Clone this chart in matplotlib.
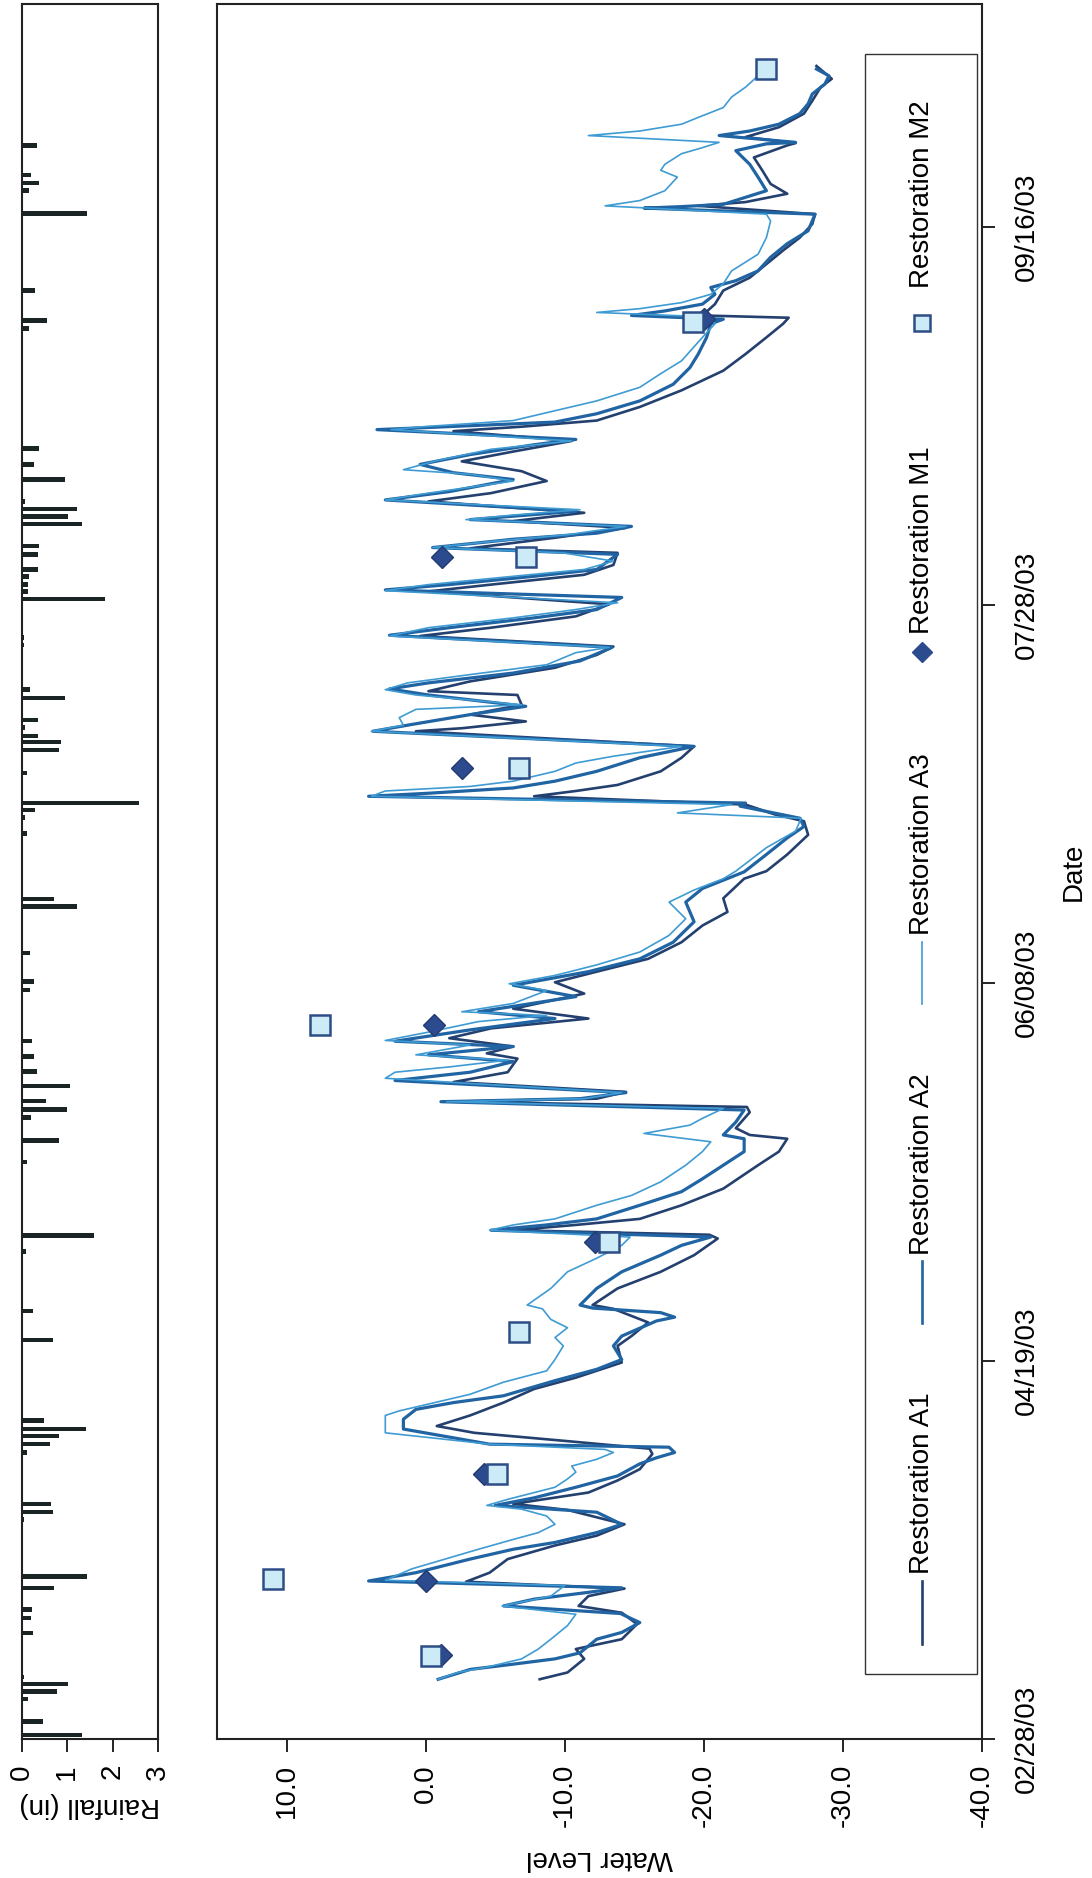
import numpy as np
import matplotlib
matplotlib.use('Agg')
import matplotlib.pyplot as plt
import matplotlib.dates as mdates
from matplotlib.ticker import FormatStrFormatter
from matplotlib.patches import Rectangle

plt.rcParams['font.family'] = ['Liberation Sans', 'DejaVu Sans']
plt.rcParams['axes.unicode_minus'] = False

# the chart is drawn turned a quarter turn: water level runs across, dates run up
# days are counted from 02/28/03
start = mdates.datestr2num('2003-02-28')
date_ticks = ['2003-02-28', '2003-04-19', '2003-06-08', '2003-07-28', '2003-09-16']
level_ticks = [10, 0, -10, -20, -30, -40]
rain_ticks = [0, 1, 2, 3]
names = ['Restoration A1', 'Restoration A2', 'Restoration A3', 'Restoration M1', 'Restoration M2']

rain_day = [0.5, 2.3, 3.3, 5.3, 6.3, 7.3, 8.2, 14.0, 16.0, 17.1, 20.0, 21.5, 21.9, 29.0, 30.0, 31.1,
            37.9, 39.0, 40.1, 41.0, 42.1, 52.8, 56.6, 64.5, 66.6, 76.3, 79.2, 80.3, 82.2, 83.3, 84.4,
            86.4, 88.3, 90.3, 92.3, 95.2, 99.1, 100.2, 104.0, 106.1, 107.2, 110.1, 111.1, 112.0,
            119.8, 121.9, 122.9, 123.8, 127.8, 130.8, 131.9, 132.7, 133.8, 134.8, 137.7, 138.8,
            140.7, 143.8, 144.7, 145.7, 150.8, 151.8, 152.7, 153.8, 154.7, 156.7, 157.8, 160.7,
            161.7, 162.7, 163.7, 164.8, 166.6, 168.6, 170.7, 186.6, 187.6, 191.6, 192.7, 195.7,
            200.7, 201.8, 204.8, 205.8, 206.9, 210.8]
rain_in = [1.32, 0.47, 0.02, 0.13, 0.77, 1.01, 0.05, 0.24, 0.21, 0.22, 0.72, 1.43, 0.02, 0.06, 0.68, 0.65,
           0.11, 0.62, 0.81, 1.41, 0.50, 0.68, 0.24, 0.09, 1.60, 0.11, 0.83, 0.02, 0.21, 0.99, 0.53,
           1.07, 0.33, 0.28, 0.22, 0.02, 0.18, 0.28, 0.18, 0.02, 0.02, 1.21, 0.70, 0.02,
           0.11, 0.07, 0.29, 2.59, 0.11, 0.82, 0.87, 0.35, 0.07, 0.35, 0.96, 0.18,
           0.02, 0.02, 0.06, 0.04, 1.84, 0.13, 0.13, 0.16, 0.35, 0.35, 0.38, 1.32,
           1.01, 1.21, 0.07, 0.02, 0.96, 0.28, 0.38, 0.17, 0.55, 0.29, 0.02, 0.02,
           0.02, 1.43, 0.15, 0.38, 0.21, 0.33]

a1_day = [7.9, 8.8, 10.6, 11.9, 13.2, 15.2, 16.7, 17.6, 18.9, 19.9, 20.8, 22.0, 23.8, 25.6, 26.9, 28.4,
          30.3, 31.1, 32.6, 34.2, 35.7, 37.7, 38.4, 39.4, 40.5, 41.4, 42.8, 44.5, 46.3, 47.8, 49.8,
          52.0, 53.3, 55.1, 56.9, 57.4, 59.6, 61.8, 64.0, 66.2, 66.7, 67.3, 68.0, 68.8, 70.6, 72.8,
          75.9, 77.7, 79.4, 79.9, 80.8, 82.9, 83.6, 84.3, 84.7, 85.6, 86.9, 88.2, 90.0, 90.7, 91.6,
          92.7, 94.0, 95.3, 96.6, 98.6, 100.1, 101.5, 103.2, 105.4, 107.6, 109.4, 111.2, 113.8,
          114.8, 117.0, 119.6, 121.4, 122.3, 123.6, 124.7, 125.4, 126.2, 128.0, 129.8, 131.3,
          133.3, 133.7, 134.6, 135.5, 136.8, 138.1, 138.6, 139.9, 141.7, 143.4, 144.5, 145.9,
          147.0, 148.5, 150.1, 151.8, 152.7, 154.0, 155.3, 156.9, 157.5, 158.9, 160.2, 161.1,
          162.2, 163.7, 164.8, 166.4, 167.7, 169.0, 170.3, 171.7, 173.0, 173.6, 174.4, 176.2,
          178.4, 181.0, 183.2, 185.4, 187.2, 188.0, 188.3, 189.8, 191.6, 193.3, 195.1, 196.9,
          198.6, 200.4, 201.7, 202.8, 203.3, 204.4, 205.7, 207.5, 209.2, 210.8, 211.1, 211.9,
          213.2, 215.0, 216.7, 218.5, 219.6, 221.3]
a1_lvl = [-8.2, -10.2, -11.4, -10.8, -14.1, -15.2, -14.1, -11.0, -11.7, -14.3, -2.9, -4.6, -5.9, -9.3, -12.3, -14.3,
          -10.2, -6.3, -11.7, -13.8, -15.4, -16.3, -16.1, -10.2, -3.5, -0.8, -3.2, -5.6, -7.8, -10.8, -14.1,
          -13.8, -14.8, -16.0, -13.5, -12.0, -13.8, -16.9, -19.3, -21.0, -20.4, -6.3, -10.8, -15.4, -18.4, -21.4,
          -23.9, -25.4, -26.0, -23.3, -22.3, -23.3, -23.1, -2.0, -12.3, -14.4, -2.0, -5.9, -6.6, -4.4, -6.3,
          -1.7, -4.7, -11.7, -6.3, -11.4, -9.3, -12.3, -16.0, -18.4, -19.9, -21.7, -21.4, -22.9,
          -24.5, -26.0, -27.5, -27.2, -25.1, -23.0, -7.8, -10.8, -13.8, -16.9, -18.4, -19.3,
          0.7, -2.6, -7.2, -3.2, -6.9, -6.6, -0.2, -3.2, -9.3, -12.3, -13.5, 0.4,
          -4.7, -10.8, -13.2, -0.2, -4.7, -11.4, -13.5, -13.8, -3.2, -9.3, -14.4, -6.3,
          -11.4, -0.2, -4.7, -8.7, -6.9, -2.6, -6.3, -10.5, -2.0, -7.0, -12.3, -15.4,
          -18.4, -21.4, -23.0, -24.5, -25.7, -26.1, -19.9, -20.8, -21.4, -23.3, -24.5, -25.7,
          -26.9, -27.8, -28.0, -19.6, -23.0, -26.0, -24.8, -24.2, -23.6, -26.0, -26.6, -23.0,
          -25.4, -27.2, -27.8, -28.4, -29.2, -28.1]

a2_day = [7.9, 9.2, 9.9, 10.6, 11.4, 13.2, 14.1, 15.4, 16.6, 17.6, 18.5, 19.4, 20.0, 20.9, 22.0, 23.8,
          25.1, 26.0, 27.3, 28.4, 30.0, 30.9, 31.9, 33.3, 34.8, 36.4, 37.2, 37.9, 38.6, 39.0, 41.0,
          42.3, 43.6, 44.5, 45.4, 47.4, 48.9, 50.2, 52.0, 53.3, 55.3, 55.8, 56.4, 57.0, 57.4, 59.6,
          61.8, 64.0, 65.3, 66.4, 67.3, 68.0, 68.8, 70.6, 72.4, 74.1, 75.9, 77.7, 79.4, 79.9, 81.6,
          83.2, 84.3, 84.7, 85.5, 87.1, 88.2, 89.6, 90.5, 91.6, 92.3, 93.8, 95.3, 96.2, 98.2, 99.7,
          101.5, 103.2, 105.4, 108.1, 110.7, 112.5, 114.7, 117.0, 119.2, 120.7, 121.8, 123.4,
          123.8, 124.7, 125.1, 125.8, 126.7, 128.0, 129.8, 131.3, 133.3, 134.2, 135.5, 136.6,
          138.1, 138.9, 139.7, 141.0, 142.6, 144.4, 146.0, 147.0, 148.3, 149.4, 151.0, 152.0,
          152.7, 153.8, 154.7, 156.7, 157.6, 158.7, 159.5, 160.4, 161.3, 162.4, 163.9, 165.0,
          166.6, 167.5, 168.6, 169.9, 171.2, 171.9, 173.2, 173.7, 174.2, 175.3, 177.0, 179.2,
          181.4, 183.2, 185.4, 187.2, 187.8, 188.3, 188.9, 189.8, 191.1, 192.0, 192.9, 194.2,
          196.0, 197.8, 199.5, 200.8, 201.7, 202.5, 202.7, 203.0, 204.8, 206.6, 208.3, 210.1,
          211.0, 211.2, 212.1, 212.7, 213.6, 215.0, 216.3, 217.6, 218.9, 220.0, 220.9]
a2_lvl = [-0.9, -3.2, -6.3, -9.3, -11.1, -12.3, -14.1, -15.4, -14.0, -5.6, -7.8, -11.7, -14.1, 4.1, 0.7, -3.2,
          -6.3, -9.3, -12.3, -14.1, -12.3, -5.0, -7.8, -10.8, -13.8, -15.4, -16.6, -17.9, -17.5, -4.6, 1.6,
          1.6, 0.7, -2.0, -5.6, -9.3, -12.3, -14.1, -13.5, -14.1, -16.6, -17.9, -16.9, -12.0, -11.1, -12.3,
          -14.1, -16.9, -18.4, -20.5, -4.7, -8.7, -12.3, -15.4, -18.4, -19.9, -21.4, -22.9, -22.9, -21.4, -22.3,
          -22.9, -1.1, -11.1, -14.4, 2.2, -3.2, -6.3, -0.2, -6.3, 2.2, -3.2, -9.3, -3.8, -10.8, -6.3,
          -11.7, -15.4, -17.8, -19.3, -18.7, -19.9, -22.9, -24.5, -26.0, -27.2, -26.9, -22.6,
          -23.0, 4.1, -0.2, -6.3, -9.3, -12.3, -15.4, -19.3, 3.8, 1.0, -3.2, -7.2,
          -0.2, 2.6, -0.2, -6.3, -11.1, -13.4, 2.6, -1.7, -7.8, -12.3, -14.1, 2.9,
          -1.7, -7.8, -12.3, -13.8, -0.5, -6.3, -12.3, -14.8, -3.2, -10.8, 2.9, -1.7,
          -6.3, -2.0, 0.4, -3.2, -7.8, -10.8, 3.5, -3.0, -9.3, -12.3, -15.4, -17.8,
          -19.0, -19.6, -20.2, -20.5, -21.4, -14.8, -17.2, -19.9, -20.8, -20.5, -22.3, -23.9,
          -24.8, -26.0, -27.5, -27.8, -28.0, -15.7, -18.4, -21.4, -24.5, -23.9, -23.3, -22.3,
          -24.5, -26.6, -21.1, -23.3, -25.4, -26.9, -27.5, -27.8, -28.7, -29.0, -28.1]

a3_day = [7.9, 8.8, 9.5, 10.6, 11.9, 13.2, 15.0, 16.5, 17.6, 18.9, 20.3, 21.0, 22.5, 23.8, 25.1, 26.4,
          27.3, 28.4, 29.5, 30.4, 30.9, 31.7, 33.3, 34.4, 35.3, 36.1, 37.0, 37.9, 38.3, 39.0, 40.5,
          42.8, 43.4, 44.3, 45.6, 47.2, 48.7, 50.2, 52.0, 53.1, 54.4, 55.5, 56.9, 57.4, 59.6, 61.8,
          63.6, 65.3, 66.4, 67.3, 68.0, 68.8, 69.7, 70.6, 71.9, 73.7, 75.9, 77.7, 79.0, 80.1, 81.2,
          82.1, 83.4, 84.3, 84.7, 85.5, 87.4, 88.2, 88.9, 89.8, 90.5, 91.8, 92.4, 93.5, 94.9, 95.7,
          96.2, 97.3, 99.0, 99.9, 101.0, 102.4, 104.1, 106.3, 108.5, 110.7, 112.3, 113.8, 114.8,
          117.9, 120.1, 121.8, 122.5, 123.6, 124.7, 125.4, 126.0, 126.7, 128.0, 129.1, 130.0,
          131.3, 133.3, 134.1, 135.1, 136.2, 136.8, 138.1, 138.8, 139.7, 140.8, 142.1, 143.7,
          144.4, 145.9, 147.0, 148.3, 149.4, 150.3, 151.9, 152.7, 153.8, 154.7, 155.8, 156.9,
          157.6, 158.4, 159.3, 160.4, 161.3, 161.9, 162.6, 163.9, 164.8, 166.4, 167.3, 167.9,
          169.1, 170.6, 171.7, 173.2, 173.6, 174.0, 174.4, 175.7, 177.0, 178.8, 180.6, 182.3,
          185.4, 187.2, 188.1, 188.7, 189.2, 190.0, 191.1, 192.5, 194.2, 196.4, 198.6, 200.8,
          201.7, 202.8, 203.5, 204.8, 206.6, 207.5, 208.3, 209.7, 210.5, 211.2, 212.1, 212.7,
          213.6, 214.5, 215.8, 217.2, 218.5, 220.0, 220.9]
a3_lvl = [-0.9, -2.3, -4.4, -6.9, -8.1, -9.0, -10.2, -10.8, -5.5, -9.0, -10.0, 2.9, 1.0, -1.4, -3.8, -6.3,
          -8.1, -9.3, -8.7, -6.9, -4.4, -5.9, -9.3, -10.2, -10.8, -10.5, -12.3, -13.5, -12.9, -4.6, 2.9,
          2.9, 1.9, -0.2, -3.2, -5.6, -8.7, -9.3, -9.9, -9.3, -10.2, -9.0, -8.4, -7.3, -9.0, -10.2,
          -12.3, -14.1, -14.7, -4.6, -6.3, -9.3, -10.8, -12.3, -14.8, -16.9, -18.7, -19.9, -20.5, -15.7, -19.0,
          -19.9, -21.4, -1.5, -11.4, -14.1, 2.9, 2.2, -1.7, -5.9, 0.7, -3.2, 2.9, -0.2, -3.8, -8.7,
          -2.6, -6.3, -8.7, -6.0, -9.3, -12.3, -15.4, -17.5, -18.7, -17.5, -19.3, -21.4, -22.3,
          -24.5, -26.6, -27.0, -18.1, -22.0, 3.9, 2.9, -3.2, -6.3, -9.3, -10.8, -13.5,
          -18.4, 3.9, 1.6, 1.9, 0.7, -6.9, 0.7, 2.9, 1.3, -3.2, -8.7, -10.8,
          -13.2, 2.6, -0.2, -6.3, -10.8, -13.8, 2.9, -0.2, -6.3, -11.4, -13.5, -9.9,
          -0.5, -4.7, -10.2, -14.4, -2.9, -6.3, -11.1, 2.9, -0.2, -6.3, -3.2, 1.6,
          -0.8, -4.7, -10.5, 2.5, 0.1, -3.2, -6.3, -9.3, -12.3, -15.4, -16.9, -18.4,
          -19.9, -20.8, -20.5, -12.3, -15.4, -18.4, -20.5, -21.4, -22.0, -23.9, -24.5, -24.8,
          -24.5, -12.9, -15.4, -17.2, -18.1, -16.9, -17.2, -18.4, -19.9, -21.1, -11.7, -15.4,
          -18.4, -19.6, -21.4, -22.0, -23.0, -23.9, -24.5]

m1_day = [11.1, 20.9, 35.0, 65.8, 94.4, 128.4, 156.3, 187.8]
m1_lvl = [-1.1, 0.0, -4.2, -12.2, -0.6, -2.6, -1.2, -20.0]
m2_day = [11.0, 21.1, 35.0, 53.8, 65.8, 94.4, 128.4, 156.3, 187.4, 220.9]
m2_lvl = [-0.4, 11.0, -5.1, -6.7, -13.2, 7.6, -6.7, -7.2, -19.2, -24.5]

c_a1 = '#24406f'
c_a2 = '#2064a3'
c_a3 = '#3f9bd3'
c_m1 = '#2c4b8e'
c_m2 = '#cdeaf7'
c_edge = '#2d4d86'

W, H = 1092.0, 1878.0
fig = plt.figure(figsize=(10.92, 18.78), dpi=100)
ax = fig.add_axes([217 / W, 1 - 1739 / H, 765 / W, 1735 / H])
axr = fig.add_axes([21.7 / W, 1 - 1739 / H, 136.3 / W, 1735 / H])

# rainfall panel (bars hang from the zero line)
axr.barh(start + np.array(rain_day), rain_in, height=0.6, left=0, color='#1b2424')
axr.set_xlim(0, 3)
axr.set_ylim(start, start + 229.5)
axr.set_xticks(rain_ticks)
axr.set_yticks([])
axr.tick_params(axis='x', direction='out', length=9, width=1.2, pad=9, labelsize=20, labelrotation=90)
axr.set_xlabel('Rainfall (in)', fontsize=20, rotation=180)
axr.xaxis.set_label_coords(0.5, (1739 - 1805) / 1735.0)
axr.xaxis.label.set_va('center')
for s in axr.spines.values():
    s.set_linewidth(1.5)
    s.set_color('#222222')

# water levels
ax.plot(a1_lvl, start + np.array(a1_day), color=c_a1, lw=1.9, solid_joinstyle='round')
ax.plot(a2_lvl, start + np.array(a2_day), color=c_a2, lw=2.3, solid_joinstyle='round')
ax.plot(a3_lvl, start + np.array(a3_day), color=c_a3, lw=1.2, solid_joinstyle='round')
ax.plot(m1_lvl, start + np.array(m1_day), ls='none', marker='D', ms=11, color=c_m1, mec='#223a70')
ax.plot(m2_lvl, start + np.array(m2_day), ls='none', marker='s', ms=15, mfc=c_m2, mec=c_edge, mew=1.8)

ax.set_xlim(15, -40)
ax.set_xticks(level_ticks)
ax.xaxis.set_major_formatter(FormatStrFormatter('%.1f'))
ax.tick_params(axis='x', direction='out', length=9, width=1.2, pad=9, labelsize=20, labelrotation=90)
ax.set_xlabel('Water Level', fontsize=20, rotation=180)
ax.xaxis.set_label_coords(0.5, (1739 - 1858) / 1735.0)
ax.xaxis.label.set_va('center')

ax.set_ylim(start, start + 229.5)
ax.set_yticks(mdates.datestr2num(date_ticks))
ax.yaxis.set_major_formatter(mdates.DateFormatter('%m/%d/%y'))
ax.yaxis.tick_right()
ax.tick_params(axis='y', direction='out', length=9, width=1.2, pad=14, labelsize=20, labelrotation=90)
for t in ax.get_yticklabels():
    t.set_va('center')
ax.yaxis.set_label_position('right')
ax.set_ylabel('Date', fontsize=20, rotation=90)
ax.yaxis.set_label_coords((1074 - 217) / 765.0, 0.5)
ax.yaxis.label.set_va('center')
for s in ax.spines.values():
    s.set_linewidth(1.5)
    s.set_color('#222222')

# legend box, laid out by hand so it turns with the chart
ax.add_patch(Rectangle((0.847, 0.0375), 0.1465, 0.9337, transform=ax.transAxes,
                       fill=False, edgecolor='#333333', lw=1.0, zorder=5))
lx = 0.9216
ax.plot([lx, lx], [0.055, 0.091], transform=ax.transAxes, color=c_a1, lw=1.9, zorder=6)
ax.plot([lx, lx], [0.240, 0.2755], transform=ax.transAxes, color=c_a2, lw=1.9, zorder=6)
ax.plot([lx, lx], [0.4236, 0.4594], transform=ax.transAxes, color=c_a3, lw=1.2, zorder=6)
ax.plot([lx], [0.6265], transform=ax.transAxes, ls='none', marker='D', ms=10, color=c_m1, zorder=6)
ax.plot([lx], [0.8161], transform=ax.transAxes, ls='none', marker='s', ms=12, mfc=c_m2, mec=c_edge, mew=1.8, zorder=6)
for name, fy in zip(names, [0.0951, 0.279, 0.4634, 0.6369, 0.8365]):
    ax.text(lx, fy, name, transform=ax.transAxes, rotation=90, ha='center', va='bottom', fontsize=20, zorder=6)

plt.savefig('out.png', dpi=100)
plt.close()
